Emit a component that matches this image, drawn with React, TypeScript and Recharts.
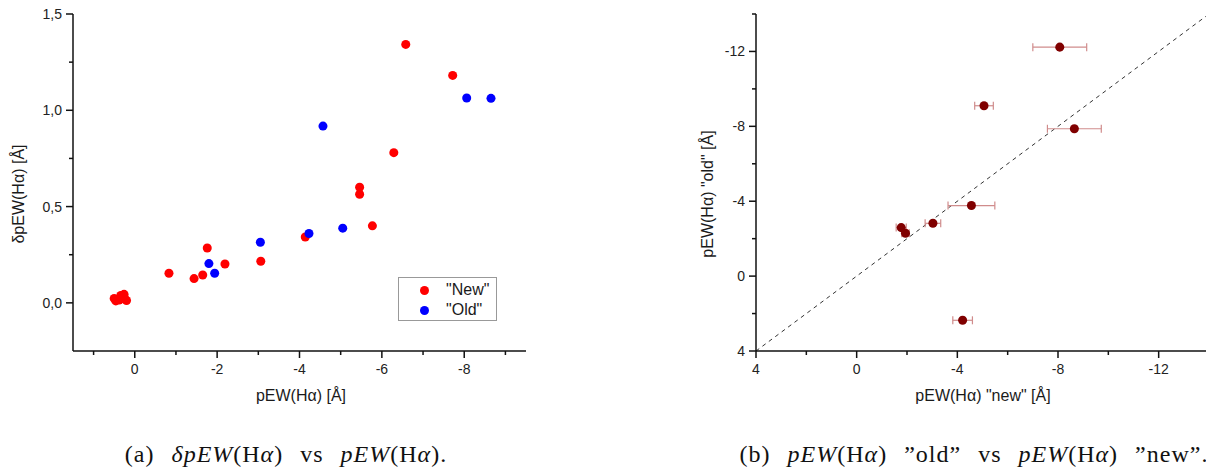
import React from "react";
import {
  ScatterChart,
  Scatter,
  XAxis,
  YAxis,
  ZAxis,
  ErrorBar,
  ReferenceLine,
} from "recharts";

// (a) dpEW vs pEW
const newPEW = [-6.58, -7.72, -6.29, -5.46, -5.46, -5.77, -4.14, -1.76, -2.19, -3.06, -0.83, -1.44, -1.65, 0.5, 0.46, 0.34, 0.26, 0.2, 0.38, 0.24];
const newDelta = [1.342, 1.181, 0.78, 0.6, 0.564, 0.4, 0.342, 0.285, 0.202, 0.216, 0.154, 0.126, 0.145, 0.023, 0.01, 0.038, 0.044, 0.012, 0.015, 0.02];
const oldPEW = [-8.06, -8.65, -4.57, -4.23, -5.05, -3.05, -1.8, -1.94];
const oldDelta = [1.064, 1.062, 0.918, 0.36, 0.388, 0.315, 0.204, 0.154];

const aXTicks = [1, 0, -1, -2, -3, -4, -5, -6, -7, -8, -9];
const aYTicks = [0, 0.25, 0.5, 0.75, 1, 1.25, 1.5];

// (b) pEW old vs new
const cmpNew = [-8.07, -5.06, -8.65, -4.56, -3.03, -1.77, -1.94, -4.21];
const cmpOld = [-12.23, -9.1, -7.87, -3.77, -2.82, -2.59, -2.29, 2.36];
const cmpErr = [1.07, 0.37, 1.07, 0.93, 0.31, 0.2, 0.15, 0.39];

const bTicks = [4, 2, 0, -2, -4, -6, -8, -10, -12, -14];

const ink = "#111";
const font = "'Liberation Sans', Arial, sans-serif";

const newData = newPEW.map((x, i) => ({ x, y: newDelta[i] }));
const oldData = oldPEW.map((x, i) => ({ x, y: oldDelta[i] }));
const cmpData = cmpNew.map((x, i) => ({ x, y: cmpOld[i], ex: cmpErr[i] }));

const comma = (v: number) => v.toFixed(1).replace(".", ",");
const plain = (v: number) => String(v);

type Side = "bottom" | "left" | "top" | "right";

const makeTick = (side: Side, step: number, fmt: (v: number) => string) => (props: any) => {
  const { x, y, payload } = props;
  const v = payload.value;
  const major = Math.abs(v / step - Math.round(v / step)) < 1e-6;
  const len = major ? 7 : 4;
  const label = major ? fmt(v) : "";
  const txt = { fontFamily: font, fontSize: 14, fill: "#222" };
  if (side === "bottom")
    return (
      <g>
        <line x1={x} y1={y} x2={x} y2={y + len} stroke={ink} strokeWidth={1.5} />
        <text x={x} y={y + 18} textAnchor="middle" dominantBaseline="central" {...txt}>{label}</text>
      </g>
    );
  if (side === "left")
    return (
      <g>
        <line x1={x - len} y1={y} x2={x} y2={y} stroke={ink} strokeWidth={1.5} />
        <text x={x - 11} y={y} textAnchor="end" dominantBaseline="central" {...txt}>{label}</text>
      </g>
    );
  if (side === "top")
    return <line x1={x} y1={y} x2={x} y2={y + len} stroke={ink} strokeWidth={1.5} />;
  return <line x1={x} y1={y} x2={x - len} y2={y} stroke={ink} strokeWidth={1.5} />;
};

const axisLine = { stroke: ink, strokeWidth: 1.5 };

const abs = (left: number, top: number): React.CSSProperties => ({
  position: "absolute",
  left,
  top,
});

function AxisTitle({ x, y, text, rotate }: { x: number; y: number; text: string; rotate?: boolean }) {
  return (
    <div
      style={{
        position: "absolute",
        left: x - 150,
        top: y - 10,
        width: 300,
        height: 20,
        lineHeight: "20px",
        textAlign: "center",
        fontFamily: font,
        fontSize: 16,
        color: "#1a1a1a",
        whiteSpace: "nowrap",
        transform: rotate ? "rotate(-90deg)" : undefined,
      }}
    >
      {text}
    </div>
  );
}

function LegendBox() {
  const row = (color: string, label: string, top: number) => (
    <div style={{ position: "absolute", left: 0, top, height: 20, width: 100 }}>
      <div
        style={{
          position: "absolute",
          left: 21,
          top: 6,
          width: 9,
          height: 9,
          borderRadius: 5,
          background: color,
        }}
      />
      <div
        style={{
          position: "absolute",
          left: 47,
          top: 0,
          lineHeight: "20px",
          fontFamily: font,
          fontSize: 16,
          color: "#1a1a1a",
        }}
      >
        {label}
      </div>
    </div>
  );
  return (
    <div
      style={{
        ...abs(398, 277),
        width: 99,
        height: 44,
        border: "1px solid #999",
        background: "#fff",
        boxSizing: "border-box",
      }}
    >
      {row("#ff0000", '"New"', 2)}
      {row("#0000ff", '"Old"', 22)}
    </div>
  );
}

const capStyle: React.CSSProperties = {
  position: "absolute",
  top: 440,
  width: 600,
  textAlign: "center",
  fontFamily: "'Liberation Serif', 'DejaVu Serif', serif",
  fontSize: 24,
  lineHeight: "28px",
  color: "#111",
  whiteSpace: "nowrap",
  letterSpacing: 1,
  wordSpacing: 10,
};

export default function App() {
  return (
    <div style={{ position: "relative", width: 1214, height: 476, margin: -8, background: "#fff", overflow: "hidden" }}>
      <div style={abs(0, 0)}>
        <ScatterChart width={600} height={420} margin={{ top: 14, right: 74, bottom: 39, left: 13 }}>
          <XAxis
            xAxisId="b"
            type="number"
            dataKey="x"
            domain={[-9.5, 1.5]}
            reversed
            allowDataOverflow
            ticks={aXTicks}
            interval={0}
            height={30}
            tickSize={0}
            tickMargin={0}
            tickLine={false}
            axisLine={axisLine}
            tick={makeTick("bottom", 2, plain)}
          />
          <XAxis
            xAxisId="t"
            orientation="top"
            type="number"
            dataKey="x"
            domain={[-9.5, 1.5]}
            reversed
            allowDataOverflow
            ticks={aXTicks}
            interval={0}
            height={0}
            tickSize={0}
            tickMargin={0}
            tickLine={false}
            axisLine={axisLine}
            tick={makeTick("top", 2, plain)}
          />
          <YAxis
            yAxisId="l"
            type="number"
            dataKey="y"
            domain={[-0.25, 1.5]}
            allowDataOverflow
            ticks={aYTicks}
            interval={0}
            width={60}
            tickSize={0}
            tickMargin={0}
            tickLine={false}
            axisLine={axisLine}
            tick={makeTick("left", 0.5, comma)}
          />
          <YAxis
            yAxisId="r"
            orientation="right"
            type="number"
            dataKey="y"
            domain={[-0.25, 1.5]}
            allowDataOverflow
            ticks={aYTicks}
            interval={0}
            width={0}
            tickSize={0}
            tickMargin={0}
            tickLine={false}
            axisLine={axisLine}
            tick={makeTick("right", 0.5, comma)}
          />
          <ZAxis range={[64, 64]} />
          <Scatter data={newData} xAxisId="b" yAxisId="l" fill="#ff0000" shape="circle" isAnimationActive={false} />
          <Scatter data={oldData} xAxisId="b" yAxisId="l" fill="#0000ff" shape="circle" isAnimationActive={false} />
        </ScatterChart>
      </div>

      <div style={abs(600, 0)}>
        <ScatterChart width={614} height={420} margin={{ top: 14, right: 5, bottom: 39, left: 96 }}>
          <XAxis
            xAxisId="b"
            type="number"
            dataKey="x"
            domain={[-14, 4]}
            reversed
            allowDataOverflow
            ticks={bTicks}
            interval={0}
            height={30}
            tickSize={0}
            tickMargin={0}
            tickLine={false}
            axisLine={axisLine}
            tick={makeTick("bottom", 4, plain)}
          />
          <XAxis
            xAxisId="t"
            orientation="top"
            type="number"
            dataKey="x"
            domain={[-14, 4]}
            reversed
            allowDataOverflow
            ticks={bTicks}
            interval={0}
            height={0}
            tickSize={0}
            tickMargin={0}
            tickLine={false}
            axisLine={axisLine}
            tick={makeTick("top", 4, plain)}
          />
          <YAxis
            yAxisId="l"
            type="number"
            dataKey="y"
            domain={[-14, 4]}
            reversed
            allowDataOverflow
            ticks={bTicks}
            interval={0}
            width={60}
            tickSize={0}
            tickMargin={0}
            tickLine={false}
            axisLine={axisLine}
            tick={makeTick("left", 4, plain)}
          />
          <YAxis
            yAxisId="r"
            orientation="right"
            type="number"
            dataKey="y"
            domain={[-14, 4]}
            reversed
            allowDataOverflow
            ticks={bTicks}
            interval={0}
            width={0}
            tickSize={0}
            tickMargin={0}
            tickLine={false}
            axisLine={axisLine}
            tick={makeTick("right", 4, plain)}
          />
          <ZAxis range={[48, 48]} />
          <ReferenceLine
            xAxisId="b"
            yAxisId="l"
            segment={[{ x: 4, y: 4 }, { x: -14, y: -14 }]}
            stroke="#333"
            strokeWidth={1}
            strokeDasharray="4 4"
          />
          <Scatter data={cmpData} xAxisId="b" yAxisId="l" fill="#800000" shape="circle" isAnimationActive={false}>
            <ErrorBar dataKey="ex" direction="x" width={4} stroke="#d08c8c" strokeWidth={1.2} isAnimationActive={false} />
          </Scatter>
        </ScatterChart>
      </div>

      <AxisTitle x={19} y={194} text="δpEW(Hα) [Å]" rotate />
      <AxisTitle x={301} y={396} text="pEW(Hα) [Å]" />
      <AxisTitle x={708} y={194} text={'pEW(Hα) "old" [Å]'} rotate />
      <AxisTitle x={983} y={396} text={'pEW(Hα) "new" [Å]'} />
      <LegendBox />

      <div style={{ ...capStyle, left: 286 - 300 }}>
        (a) <i>δpEW</i>(H<i>α</i>) vs <i>pEW</i>(H<i>α</i>).
      </div>
      <div style={{ ...capStyle, left: 974 - 300 }}>
        (b) <i>pEW</i>(H<i>α</i>) ”old” vs <i>pEW</i>(H<i>α</i>) ”new”.
      </div>
    </div>
  );
}
